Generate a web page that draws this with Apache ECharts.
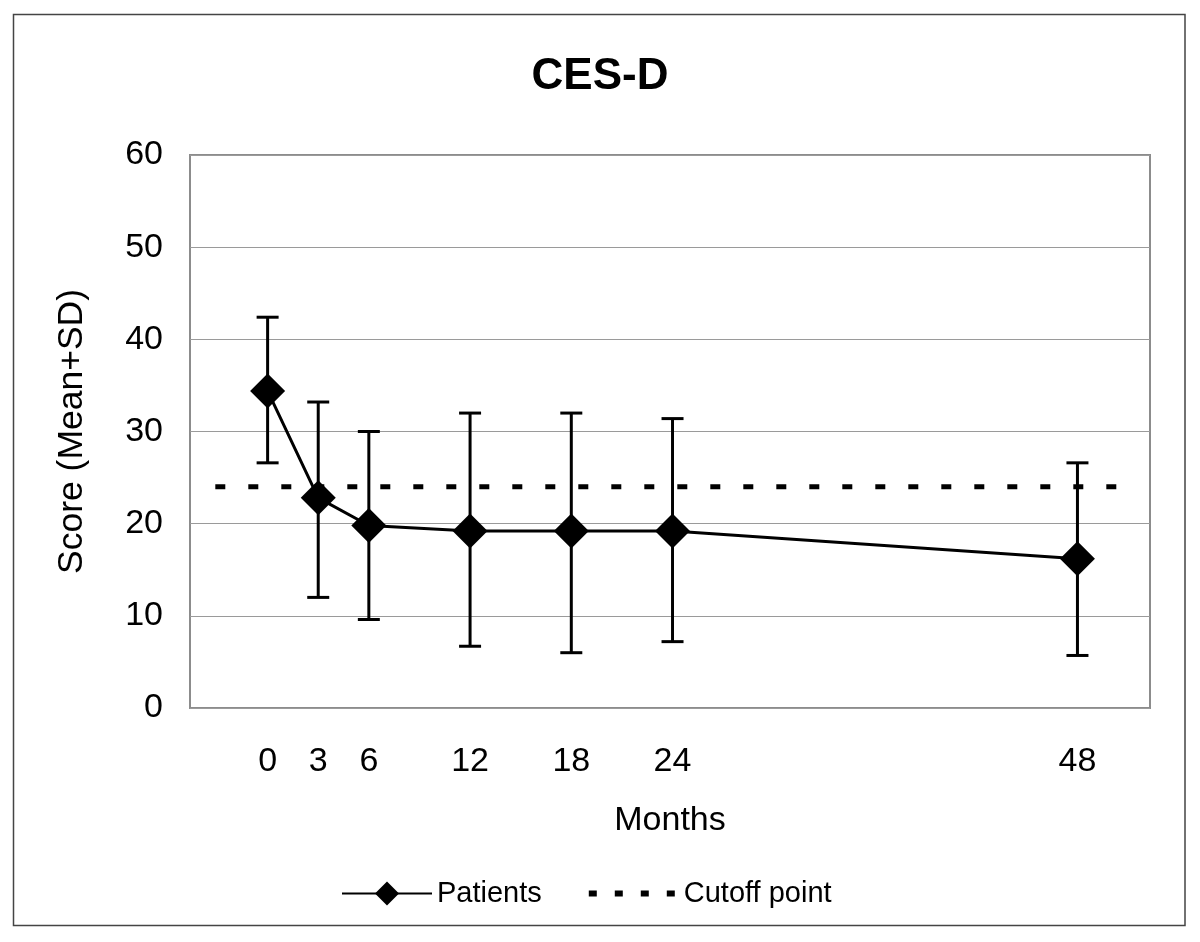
<!DOCTYPE html>
<html>
<head>
<meta charset="utf-8">
<script src="https://cdn.jsdelivr.net/npm/echarts@6/dist/echarts.min.js"></script>
<style>
html,body{margin:0;padding:0;background:#fff;}
#chart{width:1200px;height:942px;}
</style>
</head>
<body>
<div id="chart"></div>
<script>
var months = [0, 3, 6, 12, 18, 24, 48];
var meanScores = [34.4, 22.8, 19.8, 19.2, 19.2, 19.2, 16.2];
var sdUpper = [42.4, 33.2, 30.0, 32.0, 32.0, 31.4, 26.6];
var sdLower = [26.6, 12.0, 9.6, 6.7, 6.0, 7.2, 5.7];
var cutoffValue = 24;
var cutoffSpan = [-3.1, 50.5];
var yTicks = [0, 10, 20, 30, 40, 50, 60];

var FONT = "'Liberation Sans', Arial, sans-serif";

var patientsData = months.map(function (m, i) { return [m, meanScores[i]]; });
var errorData = months.map(function (m, i) { return [m, sdLower[i], sdUpper[i]]; });
var cutoffData = cutoffSpan.map(function (x) { return [x, cutoffValue]; });

var chart = echarts.init(document.getElementById('chart'), null, {renderer: 'canvas'});

var option = {
  backgroundColor: '#ffffff',
  animation: false,
  textStyle: {fontFamily: FONT, color: '#000'},
  title: {
    text: 'CES-D',
    left: 'center',
    top: 50,
    textStyle: {fontFamily: FONT, fontSize: 44, fontWeight: 'bold', color: '#000'}
  },
  graphic: [{
    type: 'rect',
    silent: true,
    shape: {x: 13.5, y: 14.5, width: 1171.5, height: 911},
    style: {fill: 'none', stroke: '#444', lineWidth: 1.5}
  }],
  legend: {
    left: 336,
    top: 874,
    itemWidth: 90,
    itemHeight: 30,
    itemGap: 44,
    textStyle: {fontFamily: FONT, fontSize: 29, color: '#000'},
    data: [
      {name: 'Patients', lineStyle: {width: 2}},
      {name: 'Cutoff point', itemStyle: {opacity: 0}, lineStyle: {width: 6, type: [8, 18]}}
    ]
  },
  grid: {
    left: 190,
    right: 50,
    top: 155,
    bottom: 234,
    show: true,
    borderColor: '#8c8c8c',
    borderWidth: 2,
    backgroundColor: 'transparent'
  },
  xAxis: {
    type: 'value',
    min: -4.6,
    max: 52.3,
    name: 'Months',
    nameLocation: 'middle',
    nameGap: 96,
    nameTextStyle: {fontFamily: FONT, fontSize: 34, color: '#000'},
    axisLine: {show: false},
    axisTick: {show: false},
    splitLine: {show: false},
    axisLabel: {
      customValues: months,
      margin: 37,
      fontFamily: FONT,
      fontSize: 34,
      color: '#000'
    }
  },
  yAxis: {
    type: 'value',
    min: yTicks[0],
    max: yTicks[yTicks.length - 1],
    interval: 10,
    name: 'Score (Mean+SD)',
    nameLocation: 'middle',
    nameGap: 100,
    nameTextStyle: {fontFamily: FONT, fontSize: 35.5, color: '#000'},
    axisLine: {show: false},
    axisTick: {show: false},
    splitLine: {show: true, lineStyle: {color: '#9a9a9a', width: 1}},
    axisLabel: {margin: 27, fontFamily: FONT, fontSize: 34, color: '#000'}
  },
  series: [
    {
      name: 'Cutoff point',
      type: 'line',
      data: cutoffData,
      symbol: 'none',
      silent: true,
      z: 2,
      lineStyle: {color: '#000', width: 5, type: [10, 23]},
      itemStyle: {color: '#000'}
    },
    {
      name: 'errorbars',
      type: 'custom',
      data: errorData,
      z: 3,
      silent: true,
      renderItem: function (params, api) {
        var x = api.value(0);
        var lo = api.coord([x, api.value(1)]);
        var hi = api.coord([x, api.value(2)]);
        var half = 11;
        var st = {stroke: '#000', lineWidth: 3};
        return {
          type: 'group',
          children: [
            {type: 'line', shape: {x1: lo[0], y1: lo[1], x2: hi[0], y2: hi[1]}, style: st},
            {type: 'line', shape: {x1: hi[0] - half, y1: hi[1], x2: hi[0] + half, y2: hi[1]}, style: st},
            {type: 'line', shape: {x1: lo[0] - half, y1: lo[1], x2: lo[0] + half, y2: lo[1]}, style: st}
          ]
        };
      }
    },
    {
      name: 'Patients',
      type: 'line',
      data: patientsData,
      symbol: 'diamond',
      symbolSize: 35,
      z: 4,
      lineStyle: {color: '#000', width: 3},
      itemStyle: {color: '#000'}
    }
  ]
};
chart.setOption(option);
</script>
</body>
</html>
